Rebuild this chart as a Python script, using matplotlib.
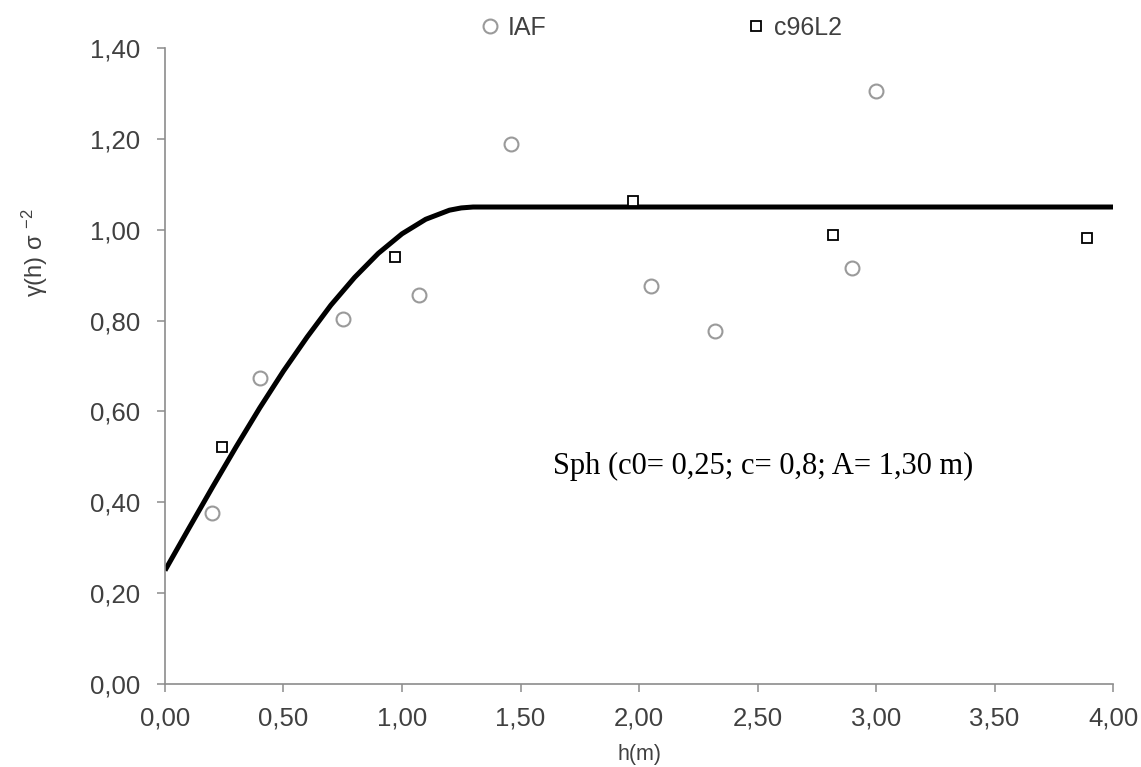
import matplotlib
matplotlib.use("Agg")
import matplotlib.pyplot as plt
from matplotlib.ticker import FuncFormatter

# observed semivariogram points
iaf_h = [0.20, 0.40, 0.75, 1.07, 1.46, 2.05, 2.32, 2.90, 3.00]
iaf_g = [0.376, 0.674, 0.803, 0.856, 1.189, 0.876, 0.777, 0.916, 1.305]

c96_h = [0.24, 0.97, 1.975, 2.82, 3.89]
c96_g = [0.522, 0.940, 1.063, 0.988, 0.982]

# fitted spherical model
model_h = [0.0, 0.1, 0.2, 0.3, 0.4, 0.5, 0.6, 0.7, 0.8, 0.9, 1.0, 1.1, 1.2, 1.25, 1.3, 4.0]
model_g = [0.250, 0.342, 0.433, 0.522, 0.608, 0.689, 0.764, 0.834, 0.895, 0.948,
           0.991, 1.023, 1.043, 1.048, 1.050, 1.050]

x_ticks = [0.0, 0.5, 1.0, 1.5, 2.0, 2.5, 3.0, 3.5, 4.0]
y_ticks = [0.0, 0.2, 0.4, 0.6, 0.8, 1.0, 1.2, 1.4]

plt.rcParams['font.family'] = ['Liberation Sans', 'DejaVu Sans']
plt.rcParams['mathtext.default'] = 'regular'

txt = '#404040'
axc = '#8c8c8c'

fig = plt.figure(figsize=(11.41, 7.67), dpi=100)
ax = fig.add_axes([0.1446, 0.1082, 0.8309, 0.8292])

ax.plot(model_h, model_g, color='black', linewidth=3.6, solid_capstyle='butt', zorder=2)
ax.plot(iaf_h, iaf_g, linestyle='none', marker='o', markersize=10, markerfacecolor='none',
        markeredgecolor='#9a9a9a', markeredgewidth=1.5, label='IAF', zorder=3)
ax.plot(c96_h, c96_g, linestyle='none', marker='s', markersize=6.5, markerfacecolor='white',
        markeredgecolor='black', markeredgewidth=1.3, label='c96L2', zorder=3)

ax.set_xlim(0, 4.0)
ax.set_ylim(0, 1.40)
ax.set_xticks(x_ticks)
ax.set_yticks(y_ticks)
fmt = FuncFormatter(lambda v, p: f"{v:.2f}".replace('.', ','))
ax.xaxis.set_major_formatter(fmt)
ax.yaxis.set_major_formatter(fmt)

for s in ['top', 'right']:
    ax.spines[s].set_visible(False)
for s in ['left', 'bottom']:
    ax.spines[s].set_color(axc)
    ax.spines[s].set_linewidth(1.2)
ax.tick_params(direction='out', length=6, width=1.1, color=axc, labelcolor=txt,
               labelsize=18.5, pad=4)
ax.tick_params(axis='x', pad=10)
ax.tick_params(axis='y', pad=12)

ax.set_xlabel('h(m)', fontsize=15.5, color=txt, labelpad=10)
fig.text(0.031, 0.67, r'γ(h) σ $^{-2}$', rotation=90, fontsize=17, color=txt,
         ha='center', va='center')

ax.text(1.637, 0.478, 'Sph (c0= 0,25; c= 0,8; A= 1,30 m)', fontsize=22,
        family=['Liberation Serif', 'DejaVu Serif'], color='black', ha='left', va='center')

fig.legend(loc='center', bbox_to_anchor=(0.579, 0.9635), ncol=2, frameon=False,
           fontsize=18, labelcolor=txt, handlelength=0.8, handletextpad=0.3,
           columnspacing=8.0)

fig.savefig('out.png', dpi=100)
